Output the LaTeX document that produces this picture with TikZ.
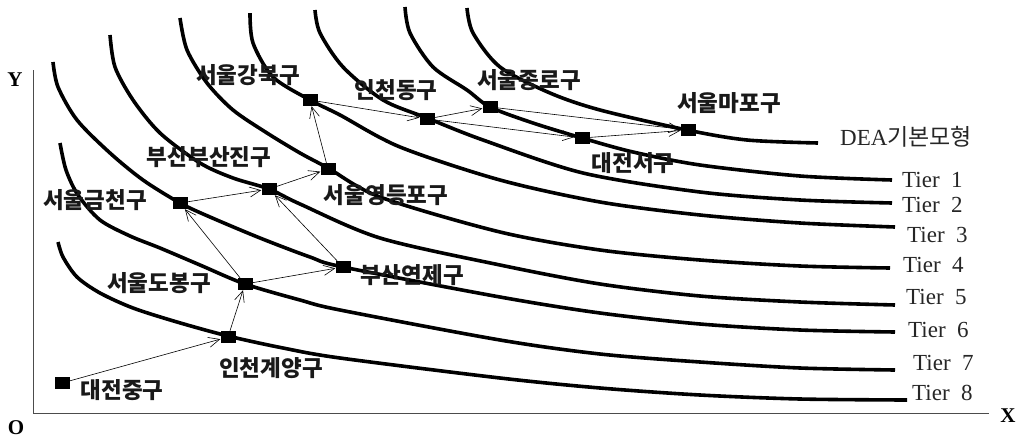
\documentclass[tikz,border=0pt]{standalone}
\usepackage{fontspec}
\setmainfont{Liberation Serif}
\newfontfamily\kr{Noto Sans CJK KR}
\usetikzlibrary{arrows.meta}
\begin{document}
\begin{tikzpicture}[x=1pt,y=-1pt,
  tier/.style={line width=3.6pt},
  pt/.style={rectangle,fill=black,inner sep=0pt,minimum width=15pt,minimum height=12pt},
  lab/.style={font=\kr\bfseries\fontsize{22.5}{22.5}\selectfont,inner sep=0pt,text=black!90},
  tl/.style={font=\fontsize{23}{23}\selectfont,anchor=west,inner sep=0pt,text=black!85},
  axl/.style={font=\bfseries\fontsize{21}{21}\selectfont,inner sep=0pt},
  arr/.style={line width=0.6pt,-{Straight Barb[length=11pt,width=10pt]}},
  ax/.style={line width=1pt,black!70}
]
\useasboundingbox (0,0) rectangle (1020,440);

% axes
\coordinate (O) at (33,413);
\coordinate (Ytop) at (33,70);
\coordinate (Xend) at (989,413);
\draw[ax] (Ytop) -- (O) -- (Xend);
\node[axl] (ylab) at (15,80) {Y};
\node[axl] (olab) at (16,428) {O};
\node[axl] (xlab) at (1008,416) {X};

% frontier curves
\draw[tier] plot[smooth] coordinates {(467,8) (473,33) (500,67) (550,93) (600,110) (687,130) (747,140) (818,143)};
\draw[tier] plot[smooth] coordinates {(405,7) (410,33) (433,67) (467,90) (490,107) (533,123) (582,138) (633,152) (700,165) (800,176) (892,180)};
\draw[tier] plot[smooth] coordinates {(315,10) (320,33) (343,67) (383,100) (427,118) (483,140) (583,173) (700,192) (800,200) (892,203)};
\draw[tier] plot[smooth] coordinates {(250,13) (253,43) (273,77) (310,100) (340,115) (400,147) (500,180) (600,202) (700,215) (800,223) (895,227)};
\draw[tier] plot[smooth] coordinates {(180,18) (187,50) (207,83) (233,110) (267,133) (300,153) (328,168) (380,197) (500,232) (600,250) (700,260) (800,266) (890,268)};
\draw[tier] plot[smooth] coordinates {(110,35) (115,67) (133,100) (160,133) (200,163) (233,178) (269,189) (300,204) (380,238) (500,265) (600,284) (700,296) (800,302) (895,305)};
\draw[tier] plot[smooth] coordinates {(53,62) (58,87) (77,120) (110,153) (143,180) (180,203) (210,217) (260,238) (310,257) (343,267) (500,297) (600,313) (700,324) (800,330) (895,332)};
\draw[tier] plot[smooth] coordinates {(60,143) (66,170) (78,195) (100,220) (130,236) (160,248) (200,265) (245,284) (300,300) (340,310) (500,340) (600,354) (700,362) (800,368) (895,370)};
\draw[tier] plot[smooth] coordinates {(58,242) (63,257) (77,277) (100,293) (133,308) (177,322) (228,336) (283,348) (340,358) (500,378) (600,388) (700,395) (800,399) (907,400)};

% tier labels
\node[tl] (dea) at (840,137) {DEA{\kr 기본모형}};
\node[tl] (t1) at (902,180) {Tier~ 1};
\node[tl] (t2) at (902,205) {Tier~ 2};
\node[tl] (t3) at (907,235) {Tier~ 3};
\node[tl] (t4) at (903,265) {Tier~ 4};
\node[tl] (t5) at (906,297) {Tier~ 5};
\node[tl] (t6) at (908,330) {Tier~ 6};
\node[tl] (t7) at (913,363) {Tier~ 7};
\node[tl] (t8) at (912,393) {Tier~ 8};

% DMU points
\node[pt] (dj) at (62,383) {};
\node[pt] (ig) at (228,337) {};
\node[pt] (db) at (245,284) {};
\node[pt] (gc) at (180,203) {};
\node[pt] (yj) at (343,267) {};
\node[pt] (bj) at (269,189) {};
\node[pt] (yd) at (328,169) {};
\node[pt] (gb) at (310,100) {};
\node[pt] (id) at (427,119) {};
\node[pt] (jr) at (490,107) {};
\node[pt] (ds) at (582,138) {};
\node[pt] (mp) at (688,130) {};

% arrows
\draw[arr] (dj) -- (ig);
\draw[arr] (ig) -- (db);
\draw[arr] (db) -- (gc);
\draw[arr] (db) -- (yj);
\draw[arr] (gc) -- (bj);
\draw[arr] (yj) -- (bj);
\draw[arr] (bj) -- (yd);
\draw[arr] (yd) -- (gb);
\draw[arr] (gb) -- (id);
\draw[arr] (id) -- (jr);
\draw[arr] (id) -- (ds);
\draw[arr] (jr) -- (mp);
\draw[arr] (ds) -- (mp);

% labels
\node[lab] (lgb) at (248,75) {서울강북구};
\node[lab] (lbj) at (209,157) {부산부산진구};
\node[lab] (lgc) at (95,200) {서울금천구};
\node[lab] (lid) at (396,90) {인천동구};
\node[lab] (ljr) at (529,80) {서울종로구};
\node[lab] (lds) at (633,163) {대전서구};
\node[lab] (lyd) at (386,195) {서울영등포구};
\node[lab] (lmp) at (729,103) {서울마포구};
\node[lab] (ldb) at (159,283) {서울도봉구};
\node[lab] (lig) at (271,368) {인천계양구};
\node[lab] (ldj) at (122,390) {대전중구};
\node[lab] (lyj) at (412,275) {부산연제구};
\end{tikzpicture}
\end{document}
